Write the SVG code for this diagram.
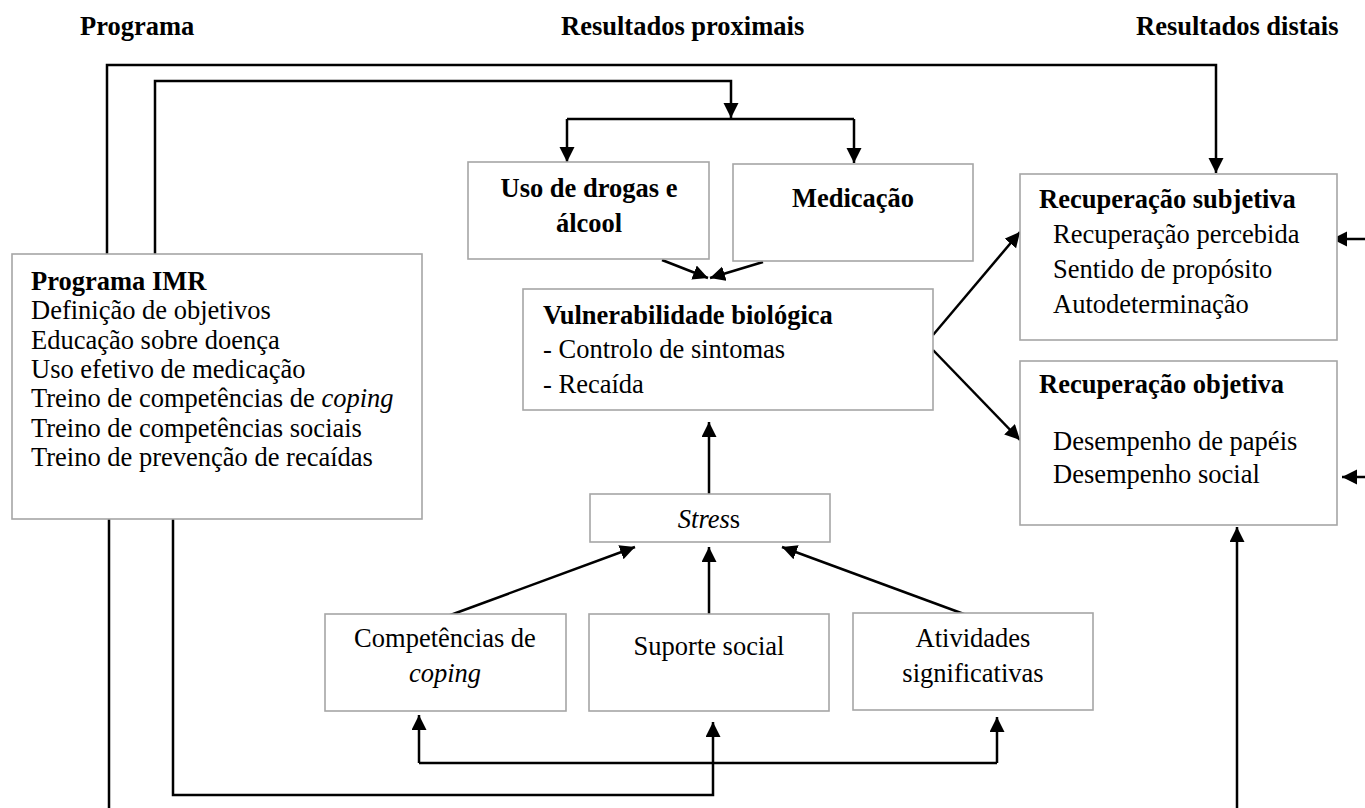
<svg xmlns="http://www.w3.org/2000/svg" width="1365" height="808" viewBox="0 0 1365 808">
<style>
text{font-family:"Liberation Serif","Times New Roman",serif;font-size:26.5px;fill:#000}
.b{font-weight:bold}
.i{font-style:italic}
.c{text-anchor:middle}
.box{fill:#fff;stroke:#a6a6a6;stroke-width:1.6}
.ln{fill:none;stroke:#000;stroke-width:2.5}
.ar{fill:none;stroke:#000;stroke-width:2.5;marker-end:url(#ah)}
</style>
<defs>
<marker id="ah" markerUnits="userSpaceOnUse" markerWidth="16" markerHeight="16" refX="15" refY="7.5" orient="auto">
<path d="M0,0 L15,7.5 L0,15 z" fill="#000"/>
</marker>
</defs>
<rect width="1365" height="808" fill="#fff"/>
<g id="headers">
<text class="b" x="80" y="35">Programa</text>
<text class="b" x="561" y="35">Resultados proximais</text>
<text class="b" x="1136" y="35">Resultados distais</text>
</g>
<g id="connectors">
<polyline class="ar" points="107,254 107,65 1216,65 1216,173"/>
<polyline class="ar" points="155,254 155,81 731,81 731,118"/>
<line class="ln" x1="567" y1="119" x2="854" y2="119"/>
<line class="ar" x1="567" y1="119" x2="567" y2="162"/>
<line class="ar" x1="854" y1="119" x2="854" y2="163"/>
<line class="ar" x1="662" y1="260" x2="708" y2="278"/>
<line class="ar" x1="763" y1="262" x2="710" y2="278"/>
<line class="ar" x1="933" y1="335" x2="1020" y2="232"/>
<line class="ar" x1="933" y1="350" x2="1020" y2="440"/>
<line class="ar" x1="709" y1="494" x2="709" y2="422"/>
<line class="ar" x1="445" y1="617" x2="635" y2="547"/>
<line class="ar" x1="709" y1="614" x2="709" y2="547"/>
<line class="ar" x1="972" y1="617" x2="782" y2="547"/>
<polyline class="ar" points="173,519 173,795 713,795 713,722"/>
<line class="ln" x1="419" y1="763" x2="997" y2="763"/>
<line class="ar" x1="419" y1="763" x2="419" y2="715"/>
<line class="ar" x1="997" y1="763" x2="997" y2="717"/>
<line class="ln" x1="109" y1="519" x2="109" y2="808"/>
<line class="ar" x1="1237" y1="808" x2="1237" y2="527"/>
<line class="ar" x1="1365" y1="239" x2="1332" y2="239"/>
<line class="ar" x1="1365" y1="477" x2="1342" y2="477"/>
</g>
<g id="imr">
<rect class="box" x="12" y="254" width="410" height="265"/>
<text class="b" x="31" y="290">Programa IMR</text>
<text x="31" y="319">Definição de objetivos</text>
<text x="31" y="349">Educação sobre doença</text>
<text x="31" y="378">Uso efetivo de medicação</text>
<text x="31" y="407">Treino de competências de <tspan class="i">coping</tspan></text>
<text x="31" y="437">Treino de competências sociais</text>
<text x="31" y="466">Treino de prevenção de recaídas</text>
</g>
<g id="drogas">
<rect class="box" x="468" y="162" width="241" height="97"/>
<text class="b c" x="589" y="197">Uso de drogas e</text>
<text class="b c" x="589" y="232">álcool</text>
</g>
<g id="medicacao">
<rect class="box" x="733" y="164" width="240" height="97"/>
<text class="b c" x="853" y="207">Medicação</text>
</g>
<g id="vulnerabilidade">
<rect class="box" x="523" y="289" width="410" height="121"/>
<text class="b" x="543" y="324">Vulnerabilidade biológica</text>
<text x="543" y="358">- Controlo de sintomas</text>
<text x="543" y="393">- Recaída</text>
</g>
<g id="stress">
<rect class="box" x="590" y="494" width="240" height="48"/>
<text class="c" x="709" y="528"><tspan class="i">Stres</tspan>s</text>
</g>
<g id="competencias">
<rect class="box" x="325" y="614" width="241" height="97"/>
<text class="c" x="445" y="647">Competências de</text>
<text class="c i" x="445" y="682">coping</text>
</g>
<g id="suporte">
<rect class="box" x="589" y="614" width="240" height="97"/>
<text class="c" x="709" y="655">Suporte social</text>
</g>
<g id="atividades">
<rect class="box" x="853" y="613" width="240" height="97"/>
<text class="c" x="973" y="647">Atividades</text>
<text class="c" x="973" y="682">significativas</text>
</g>
<g id="rec-subjetiva">
<rect class="box" x="1020" y="174" width="317" height="166"/>
<text class="b" x="1039" y="208">Recuperação subjetiva</text>
<text x="1053" y="243">Recuperação percebida</text>
<text x="1053" y="278">Sentido de propósito</text>
<text x="1053" y="313">Autodeterminação</text>
</g>
<g id="rec-objetiva">
<rect class="box" x="1020" y="361" width="317" height="164"/>
<text class="b" x="1039" y="393">Recuperação objetiva</text>
<text x="1053" y="450">Desempenho de papéis</text>
<text x="1053" y="483">Desempenho social</text>
</g>
</svg>
